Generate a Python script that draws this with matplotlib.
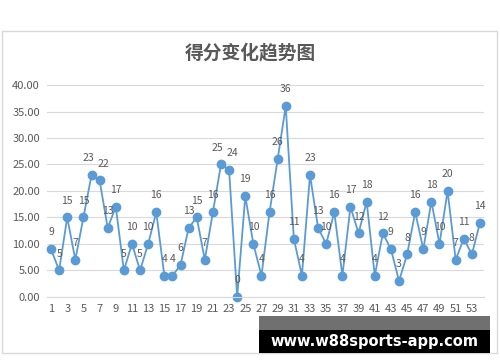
import matplotlib.pyplot as plt
from matplotlib.patches import Rectangle

plt.rcParams['font.family'] = ['Noto Sans CJK SC', 'DejaVu Sans']

# data
games = list(range(1, 55))
scores = [9, 5, 15, 7, 15, 23, 22, 13, 17, 5,
          10, 5, 10, 16, 4, 4, 6, 13, 15, 7,
          16, 25, 24, 0, 19, 10, 4, 16, 26, 36,
          11, 4, 23, 13, 10, 16, 4, 17, 12, 18,
          4, 12, 9, 3, 8, 16, 9, 18, 10, 20,
          7, 11, 8, 14]
y_ticks = [0, 5, 10, 15, 20, 25, 30, 35, 40]
x_ticks = list(range(1, 54, 2))

line_color = '#5B9BD5'
text_color = '#595959'

fig = plt.figure(figsize=(5, 3.62), dpi=100)
fig.patch.set_facecolor('white')

# chart border
fig.add_artist(Rectangle((0.003, 0.025), 0.99, 0.89, transform=fig.transFigure,
                         fill=False, edgecolor='#D9D9D9', linewidth=1))

ax = fig.add_axes([0.094, 0.180, 0.874, 0.585])
ax.plot(games, scores, color=line_color, linewidth=1.3, marker='o',
        markersize=6, markerfacecolor=line_color, markeredgecolor=line_color,
        clip_on=False)

# small sideways nudges where neighbouring labels collide
nudge = {6: -2.5, 7: 2.5, 22: -2.5, 23: 2.5}
for g, s in zip(games, scores):
    ax.annotate(str(s), (g, s), xytext=(nudge.get(g, 0), 8.5),
                textcoords='offset points', ha='center', va='bottom',
                fontsize=7.5, color=text_color)

ax.set_xlim(0.5, 54.5)
ax.set_ylim(0, 40)
ax.set_yticks(y_ticks)
ax.set_yticklabels([f'{v:.2f}' for v in y_ticks])
ax.set_xticks(x_ticks)
ax.tick_params(axis='both', length=0, labelsize=8, labelcolor=text_color)
ax.tick_params(axis='x', pad=5)
ax.tick_params(axis='y', pad=5)
ax.grid(axis='y', color='#D9D9D9', linewidth=0.8)
ax.set_axisbelow(True)
for side in ['top', 'right', 'left']:
    ax.spines[side].set_visible(False)
ax.spines['bottom'].set_color('#D9D9D9')

fig.text(0.5, 0.855, '得分变化趋势图', ha='center', va='center',
         fontsize=13.5, fontweight='bold', color=text_color)

# watermark strip at bottom
fig.add_artist(Rectangle((0.518, 0.088), 0.462, 0.04, transform=fig.transFigure,
                         facecolor='#707070', edgecolor='none'))
fig.add_artist(Rectangle((0.518, 0.025), 0.462, 0.064, transform=fig.transFigure,
                         facecolor='black', edgecolor='none'))
fig.text(0.749, 0.057, 'www.w88sports-app.com', ha='center', va='center',
         fontsize=10.5, fontweight='bold', color='white', family='DejaVu Sans')

plt.savefig('out.png', dpi=100)
